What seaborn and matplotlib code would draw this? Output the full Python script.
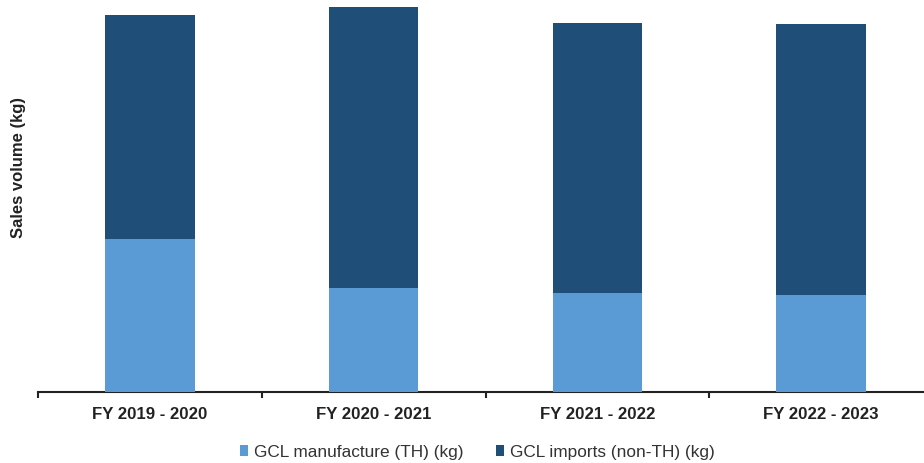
import matplotlib
matplotlib.use("Agg")
import matplotlib.pyplot as plt
from matplotlib.patches import Patch
import pandas as pd
import seaborn as sns

# Sales volume by fiscal year (kg, thousands)
years = ["FY 2019 - 2020", "FY 2020 - 2021", "FY 2021 - 2022", "FY 2022 - 2023"]
manufacture_th = [153, 104, 99, 97]
imports_non_th = [225, 282, 271, 272]

series_labels = ["GCL manufacture (TH) (kg)", "GCL imports (non-TH) (kg)"]
light_blue = "#5B9BD5"
dark_blue = "#1F4E79"

df = pd.DataFrame({
    "year": years,
    "manufacture": manufacture_th,
    "imports": imports_non_th,
})
df["total"] = df["manufacture"] + df["imports"]

sns.set_theme(style="white")
plt.rcParams["font.family"] = ["Liberation Sans", "DejaVu Sans"]

fig = plt.figure(figsize=(9.24, 4.64), dpi=100)
ax = fig.add_axes([38 / 924, 71 / 464, 895 / 924, 393 / 464])

# stacked bars: full height in dark, lower segment in light on top
sns.barplot(data=df, x="year", y="total", color=dark_blue, width=0.4,
            saturation=1, linewidth=0, edgecolor="none", ax=ax, zorder=2)
sns.barplot(data=df, x="year", y="manufacture", color=light_blue, width=0.4,
            saturation=1, linewidth=0, edgecolor="none", ax=ax, zorder=3)

ax.set_ylim(0, 394)
ax.set_xlim(-0.5, len(years) - 0.5)

for side in ["top", "right", "left"]:
    ax.spines[side].set_visible(False)
ax.spines["bottom"].set_color("#222222")
ax.spines["bottom"].set_linewidth(1.5)
ax.set_yticks([])

# tick marks between categories, labels centred under bars
ax.set_xticks([i - 0.5 for i in range(len(years) + 1)])
ax.set_xticklabels([])
ax.set_xticks(range(len(years)), minor=True)
ax.set_xticklabels(years, minor=True, fontsize=12.1, fontweight="bold",
                   color="#222222")
ax.tick_params(axis="x", which="major", direction="out", length=4,
               width=1.5, color="#222222", bottom=True)
ax.tick_params(axis="x", which="minor", length=0, pad=10)

ax.set_xlabel("")
ax.set_ylabel("Sales volume (kg)", fontsize=12, fontweight="bold",
              color="#222222")
ax.yaxis.set_label_coords(-12 / 895, 1 - 168 / 393)

handles = [Patch(facecolor=light_blue, edgecolor="none"),
           Patch(facecolor=dark_blue, edgecolor="none")]
fig.legend(handles, series_labels, loc="center",
           bbox_to_anchor=(477 / 924, 1 - 453 / 464),
           ncol=2, frameon=False, fontsize=12.4, handlelength=0.5,
           handleheight=0.55, handletextpad=0.3, columnspacing=1.9,
           labelcolor="#333333")

fig.savefig("out.png", dpi=100)
